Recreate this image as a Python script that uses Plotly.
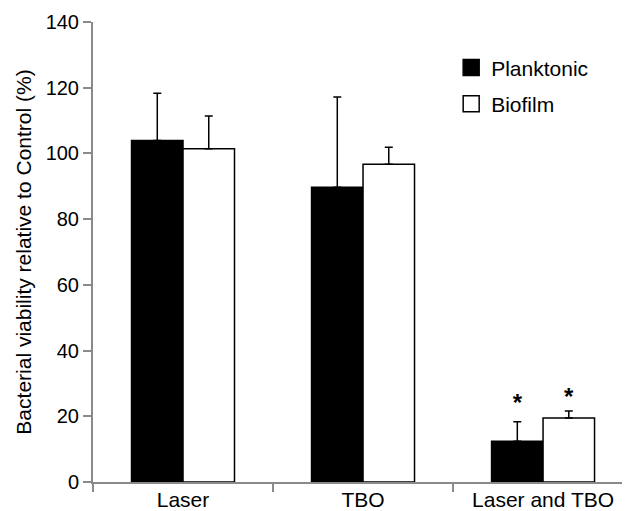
import plotly.graph_objects as go

categories = ["Laser", "TBO", "Laser and TBO"]
planktonic = [103.9, 89.7, 12.4]
planktonic_err = [14.4, 27.5, 5.9]
biofilm = [101.4, 96.7, 19.5]
biofilm_err = [10.0, 5.2, 2.1]
sig_category = ["Laser and TBO"]
sig_planktonic_y = [23.4]
sig_biofilm_y = [25.4]
y_ticks = [0, 20, 40, 60, 80, 100, 120, 140]

FONT = "Arial, Liberation Sans, sans-serif"
AXIS_COLOR = "#8a8a8a"
FS_TICK = 20
FS = 21

fig = go.Figure()
fig.add_trace(go.Bar(
    x=categories, y=planktonic, name="Planktonic", offsetgroup="p", showlegend=False,
    marker=dict(color="black", line=dict(color="black", width=1.5)),
    error_y=dict(type="data", symmetric=False, array=planktonic_err,
                 arrayminus=[0] * len(planktonic_err), color="black", thickness=1.5, width=4),
))
fig.add_trace(go.Bar(
    x=categories, y=biofilm, name="Biofilm", offsetgroup="b", showlegend=False,
    marker=dict(color="white", line=dict(color="black", width=1.5)),
    error_y=dict(type="data", symmetric=False, array=biofilm_err,
                 arrayminus=[0] * len(biofilm_err), color="black", thickness=1.5, width=4),
))
# significance markers, grouped like the bars
fig.add_trace(go.Scatter(
    x=sig_category, y=sig_planktonic_y, mode="text", text=["<b>*</b>"], offsetgroup="p",
    textposition="middle center", textfont=dict(size=24, color="black", family=FONT),
    showlegend=False, hoverinfo="skip",
))
fig.add_trace(go.Scatter(
    x=sig_category, y=sig_biofilm_y, mode="text", text=["<b>*</b>"], offsetgroup="b",
    textposition="middle center", textfont=dict(size=24, color="black", family=FONT),
    showlegend=False, hoverinfo="skip",
))
# legend entries
fig.add_trace(go.Scatter(
    x=[None], y=[None], mode="markers", name="Planktonic", offsetgroup="p", legendgroup="p",
    marker=dict(symbol="square", size=16, color="black", line=dict(color="black", width=1.5)),
))
fig.add_trace(go.Scatter(
    x=[None], y=[None], mode="markers", name="Biofilm", offsetgroup="b", legendgroup="b",
    marker=dict(symbol="square", size=16, color="white", line=dict(color="black", width=1.5)),
))

# the page body has an 8px margin, so the figure is sized to fit the 630x511 window
fig.update_layout(
    width=622, height=503,
    margin=dict(l=85, r=0, t=14, b=29),
    paper_bgcolor="white", plot_bgcolor="white",
    barmode="group", bargap=0.428, bargroupgap=0, scattermode="group",
    font=dict(family=FONT, size=FS, color="black"),
    showlegend=True,
    legend=dict(x=0.667, y=0.945, xanchor="left", yanchor="top",
                bgcolor="rgba(0,0,0,0)", font=dict(size=FS),
                tracegroupgap=6, traceorder="grouped"),
    xaxis=dict(
        type="category", range=[-0.5, 2.483], tickson="boundaries", automargin=False,
        showline=True, linecolor=AXIS_COLOR, linewidth=2,
        ticks="outside", ticklen=8, tickwidth=2, tickcolor=AXIS_COLOR,
        showgrid=False, zeroline=False, tickfont=dict(size=FS), ticklabelstandoff=-2,
    ),
    yaxis=dict(
        range=[0, 140], tickvals=y_ticks, automargin=False,
        showline=True, linecolor=AXIS_COLOR, linewidth=2,
        ticks="outside", ticklen=8, tickwidth=2, tickcolor=AXIS_COLOR,
        showgrid=False, zeroline=False, tickfont=dict(size=FS_TICK),
        title=dict(text="Bacterial viability relative to Control (%)", font=dict(size=FS), standoff=8),
    ),
)

fig.write_html("out.html")
